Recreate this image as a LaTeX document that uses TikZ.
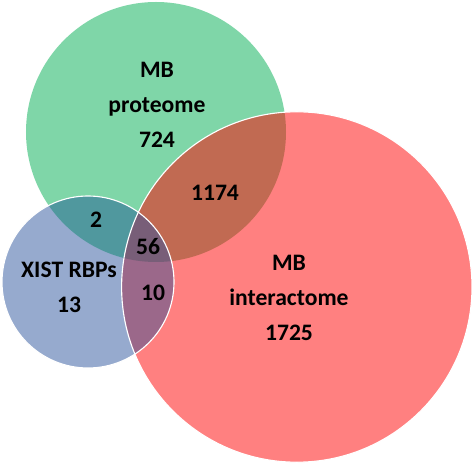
\documentclass[tikz,border=0pt]{standalone}
\usepackage{fontspec}
\setmainfont{Carlito}
\definecolor{protgreen}{RGB}{127,214,168}
\definecolor{interred}{RGB}{255,128,128}
\definecolor{xistblue}{RGB}{150,170,206}
\definecolor{protinter}{RGB}{193,106,82}
\definecolor{protxist}{RGB}{80,152,158}
\definecolor{xistinter}{RGB}{155,104,138}
\definecolor{allthree}{RGB}{120,94,120}
\def\protcircle{(3.9,8.3) circle (3.25)}
\def\intercircle{(7.42,4.425) circle (4.38)}
\def\xistcircle{(2.2,4.55) circle (2.15)}
\begin{document}
\begin{tikzpicture}[line width=0.8pt,
  setlabel/.style={align=center,font=\bfseries\fontsize{16.8pt}{24.8pt}\selectfont}]
  \useasboundingbox (0,0) rectangle (11.8,11.6);

  % einzelne Mengen
  \fill[protgreen] \protcircle;
  \fill[interred] \intercircle;
  \fill[xistblue] \xistcircle;

  % Schnittmengen
  \begin{scope}
    \clip \protcircle;
    \fill[protinter] \intercircle;
    \fill[protxist] \xistcircle;
  \end{scope}
  \begin{scope}
    \clip \xistcircle;
    \fill[xistinter] \intercircle;
  \end{scope}
  \begin{scope}
    \clip \protcircle;
    \clip \xistcircle;
    \fill[allthree] \intercircle;
  \end{scope}

  % weisse Raender
  \draw[white] \intercircle;
  \draw[white] \xistcircle;

  % Beschriftung
  \node[setlabel] (prot) at (3.925,8.98) {MB\\proteome\\724};
  \node[setlabel] (inter) at (7.225,4.15) {MB\\interactome\\1725};
  \node[setlabel] (xist) at (1.725,4.42) {XIST RBPs\\13};
  \node[setlabel] (pi) at (5.375,6.775) {1174};
  \node[setlabel] (px) at (2.4,6.1) {2};
  \node[setlabel] (pxi) at (3.7,5.425) {56};
  \node[setlabel] (xi) at (3.825,4.275) {10};
\end{tikzpicture}
\end{document}
